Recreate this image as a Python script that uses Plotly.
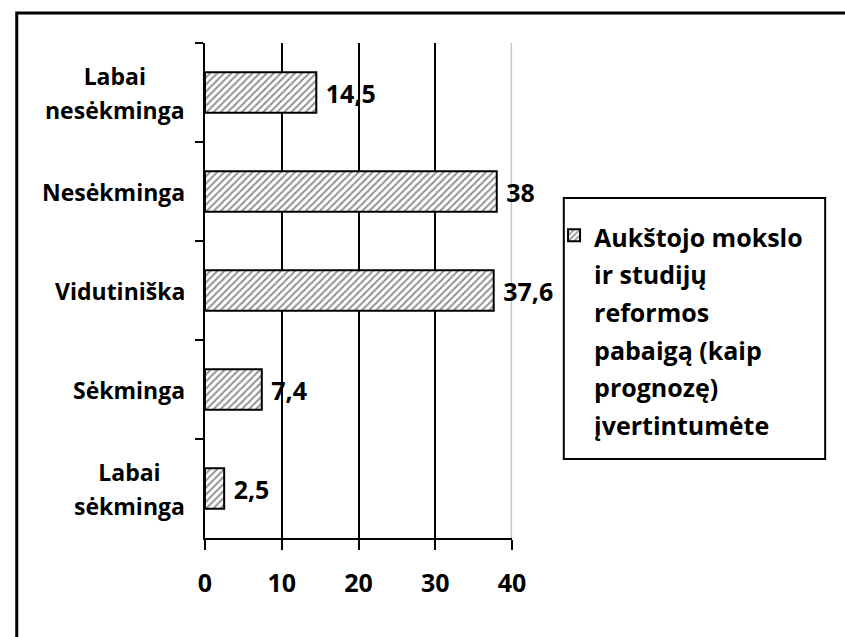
import plotly.graph_objects as go

categories = ["Labai<br>nesėkminga", "Nesėkminga", "Vidutiniška", "Sėkminga", "Labai<br>sėkminga"]
values = [14.5, 38, 37.6, 7.4, 2.5]
x_ticks = [0, 10, 20, 30, 40]
inner_grid = [10, 20, 30]
legend_lines = ["Aukštojo mokslo", "ir studijų", "reformos", "pabaigą (kaip", "prognozę)", "įvertintumėte"]

FONT = "Open Sans"
labels = ["\u00a0" + f"{v:g}".replace(".", ",") for v in values]
series_name = "<br>".join(f'<span style="font-size:25px">{s}</span>' for s in legend_lines)

W, H = 845, 637
x0d, x1d = 203 / W, 518 / W
y0d, y1d = (H - 538) / H, (H - 43) / H

fig = go.Figure()
fig.add_trace(go.Bar(
    y=categories, x=values, orientation="h", name=series_name,
    text=labels, textposition="outside", cliponaxis=False,
    textfont=dict(family=FONT, size=25, color="black", weight="bold"),
    width=0.41,
    marker=dict(color="white", line=dict(color="black", width=2),
                pattern=dict(shape="/", fgcolor="#222222", bgcolor="white", size=5, solidity=0.4)),
    showlegend=True,
))

annotations = []
for c in categories:
    txt = "<br>".join(f'<span style="font-size:23px">{p}</span>' for p in c.split("<br>"))
    annotations.append(dict(
        x=x0d, xref="paper", y=c, yref="y", xanchor="right", xshift=-18,
        text=txt, showarrow=False, align="center",
        font=dict(family=FONT, size=26, color="black", weight="bold"),
    ))

fig.update_layout(
    width=W, height=H, margin=dict(l=0, r=0, t=0, b=0),
    paper_bgcolor="white", plot_bgcolor="white",
    xaxis=dict(domain=[x0d, x1d], range=[0, 40], tickvals=x_ticks,
               showgrid=False,
               minor=dict(tickvals=inner_grid, showgrid=True, gridcolor="black", gridwidth=1.5, ticks=""),
               showline=True, linecolor="black", linewidth=2,
               ticks="outside", ticklen=10, tickwidth=2, tickcolor="black",
               ticklabelstandoff=12, zeroline=False,
               tickfont=dict(family=FONT, size=25, color="black", weight="bold")),
    yaxis=dict(domain=[y0d, y1d], autorange="reversed", type="category",
               showline=True, linecolor="black", linewidth=2,
               ticks="outside", ticklen=8, tickwidth=2, tickcolor="black",
               tickson="boundaries", showticklabels=False, showgrid=False, zeroline=False),
    legend=dict(x=561 / W, y=(H - 210) / H, xanchor="left", yanchor="top",
                bgcolor="rgba(0,0,0,0)", borderwidth=0, valign="top",
                itemwidth=30,
                font=dict(family=FONT, size=29, color="black", weight="bold")),
    annotations=annotations,
    shapes=[
        dict(type="line", xref="x", yref="y domain", x0=x_ticks[-1], x1=x_ticks[-1], y0=0, y1=1,
             line=dict(color="#c4c4c4", width=3), layer="below"),
        dict(type="rect", xref="paper", yref="paper", x0=10 / W, x1=1.02, y0=-0.05, y1=(H - 13) / H,
             line=dict(color="black", width=3)),
        dict(type="rect", xref="paper", yref="paper", x0=571 / W, x1=839 / W, y0=(H - 459) / H, y1=(H - 198) / H,
             line=dict(color="black", width=2)),
    ],
    font=dict(family=FONT),
)

fig.write_html("out.html", config={"displayModeBar": False},
               post_script="document.body.style.margin='0';document.body.style.overflow='hidden';")
